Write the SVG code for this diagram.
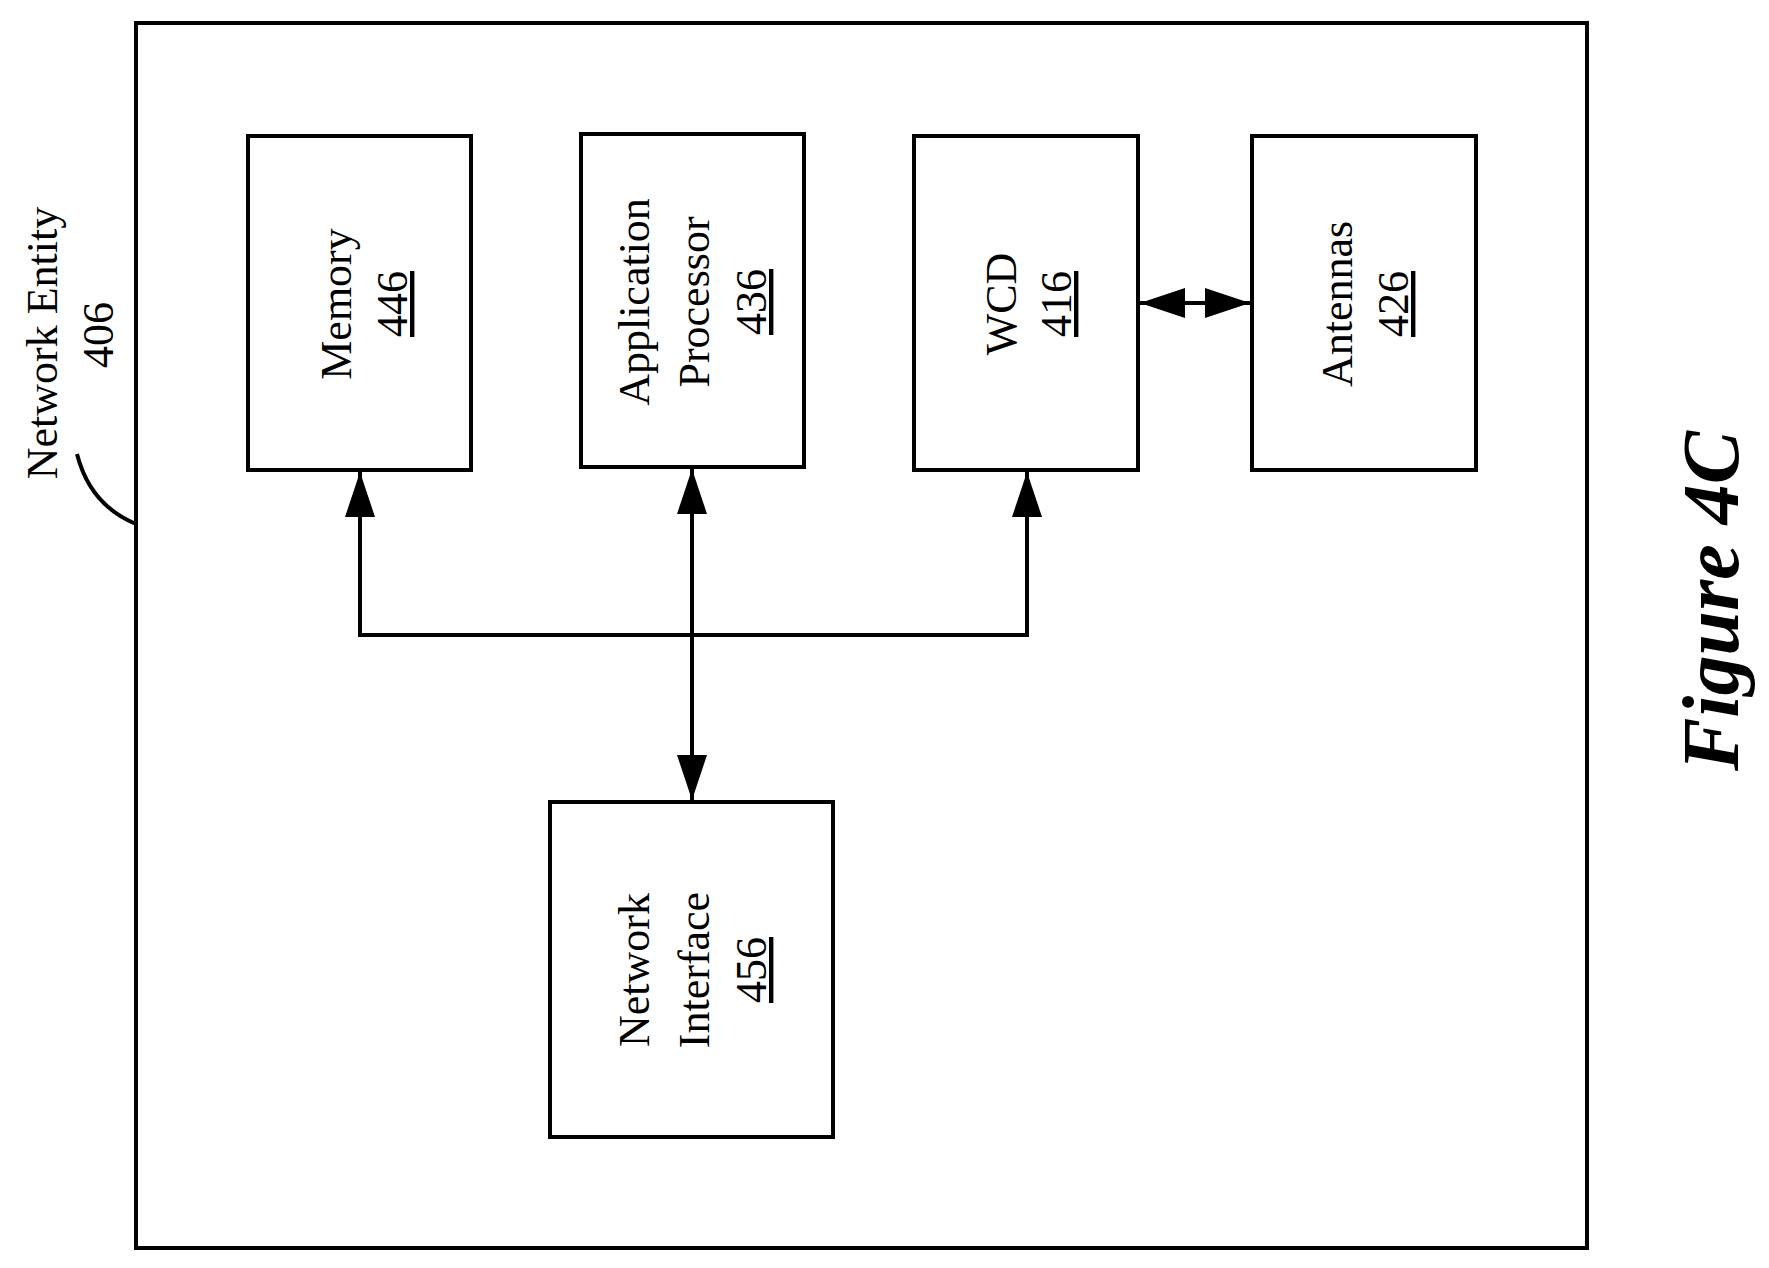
<svg xmlns="http://www.w3.org/2000/svg" width="1769" height="1268" viewBox="0 0 1769 1268">
<style>
.b{fill:#fff;stroke:#000;stroke-width:4}
.t{font-family:"Liberation Serif",serif;font-size:44px;text-anchor:middle;fill:#000}
.u{text-decoration:underline}
.c{stroke:#000;stroke-width:4;fill:none}
</style>
<defs>
<marker id="h" viewBox="0 0 45 30" refX="45" refY="15" markerWidth="45" markerHeight="30" markerUnits="userSpaceOnUse" orient="auto-start-reverse">
<path d="M0,0 L45,15 L0,30 Z" fill="#000"/>
</marker>
</defs>
<rect width="1769" height="1268" fill="#fff"/>
<g id="entity">
<rect x="136" y="23" width="1451" height="1225" class="b"/>
<text class="t" transform="translate(57,343) rotate(-90)">Network Entity</text>
<text class="t" transform="translate(113,335) rotate(-90)">406</text>
<path d="M77,454 Q90,505 136,524" class="c"/>
</g>
<g id="memory">
<rect x="248" y="136" width="223" height="334" class="b"/>
<text class="t" transform="translate(351,304) rotate(-90)">Memory</text>
<text class="t u" transform="translate(407,304) rotate(-90)">446</text>
</g>
<g id="appproc">
<rect x="581" y="134" width="223" height="333" class="b"/>
<text class="t" transform="translate(649,302) rotate(-90)">Application</text>
<text class="t" transform="translate(709,302) rotate(-90)">Processor</text>
<text class="t u" transform="translate(766,302) rotate(-90)">436</text>
</g>
<g id="wcd">
<rect x="914" y="136" width="224" height="334" class="b"/>
<text class="t" transform="translate(1016,304) rotate(-90)">WCD</text>
<text class="t u" transform="translate(1071,304) rotate(-90)">416</text>
</g>
<g id="antennas">
<rect x="1252" y="136" width="224" height="334" class="b"/>
<text class="t" transform="translate(1352,304) rotate(-90)">Antennas</text>
<text class="t u" transform="translate(1408,304) rotate(-90)">426</text>
</g>
<g id="netif">
<rect x="550" y="802" width="283" height="335" class="b"/>
<text class="t" transform="translate(649,970) rotate(-90)">Network</text>
<text class="t" transform="translate(709,970) rotate(-90)">Interface</text>
<text class="t u" transform="translate(766,970) rotate(-90)">456</text>
</g>
<g id="connectors">
<path d="M360,472 V635 H1027 V472" class="c" marker-start="url(#h)" marker-end="url(#h)"/>
<path d="M692,469 V800" class="c" marker-start="url(#h)" marker-end="url(#h)"/>
<path d="M1140,303 H1250" class="c" marker-start="url(#h)" marker-end="url(#h)"/>
</g>
<text transform="translate(1738,601) rotate(-90)" style="font-family:'Liberation Serif',serif;font-size:80px;font-weight:bold;font-style:italic;text-anchor:middle">Figure 4C</text>
</svg>
